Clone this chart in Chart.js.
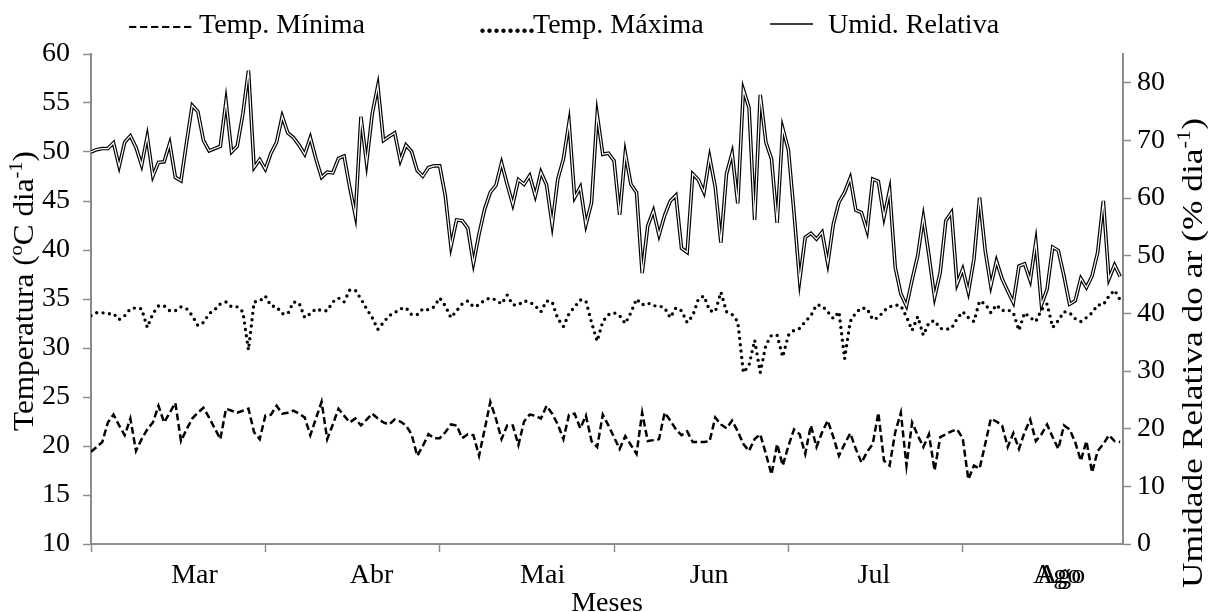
<!DOCTYPE html>
<html lang="pt">
<head>
<meta charset="utf-8">
<title>Temperatura e umidade relativa do ar</title>
<script src="https://cdn.jsdelivr.net/npm/chart.js@4.4.1/dist/chart.umd.min.js"></script>
<style>
  html, body { margin: 0; padding: 0; background: #fff; }
  #wrap { width: 1208px; height: 612px; position: relative; }
</style>
</head>
<body>
<div id="wrap"><canvas id="c" width="1208" height="612"></canvas></div>
<script>
// Daily series, 1 March to 31 August (184 days)
const tempMin = [
  19.4, 19.9, 20.4, 22.4, 23.2, 22.1, 21.1, 22.8, 19.5, 20.7,
  21.7, 22.4, 24.1, 22.4, 23.4, 24.4, 20.5, 21.7, 22.8, 23.4,
  23.9, 22.9, 21.8, 20.7, 23.8, 23.6, 23.4, 23.6, 23.8, 21.4,
  20.7, 23.1, 23.2, 24.1, 23.3, 23.4, 23.6, 23.3, 22.9, 21.1,
  22.8, 24.5, 20.7, 22.2, 23.8, 23.1, 22.4, 22.8, 22.1, 22.7,
  23.3, 22.8, 22.4, 22.2,
  22.7, 22.5, 22.1, 21.2, 19.0, 20.0, 21.2, 20.8, 20.8, 21.4,
  22.2, 22.1, 20.8, 21.2, 21.1, 19.0, 21.7, 24.5, 22.8, 20.7,
  22.1, 22.1, 20.1, 22.5, 23.2, 23.1, 22.8, 24.1, 23.3, 22.2,
  20.7, 23.2, 23.3, 21.8, 23.1, 20.5, 19.9, 23.2, 22.1, 20.9,
  19.7, 21.0, 20.1, 19.2, 23.4, 20.5, 20.6, 20.7, 23.4, 22.6,
  21.7,
  21.1, 21.5, 20.4, 20.4, 20.4, 20.5, 22.9, 22.2, 21.8, 22.6,
  21.5, 20.2, 19.5, 20.7, 21.2, 19.2, 17.1, 20.2, 18.0, 20.0,
  21.7, 21.2, 19.2, 22.1, 19.9, 21.4, 22.6, 20.9, 19.0, 20.2,
  21.3, 19.7, 18.3, 19.4, 20.2, 23.4, 18.5, 18.0, 21.4, 23.4,
  18.0, 22.4, 21.1, 19.9, 21.2, 17.5, 20.9, 21.2, 21.5, 21.7,
  20.8, 16.6,
  18.0, 17.7, 20.2, 22.8, 22.5, 22.1, 19.9, 21.3, 19.7, 21.4,
  22.7, 20.5, 21.2, 22.2, 20.9, 19.7, 22.1, 21.7, 20.4, 18.5,
  20.5, 17.3, 19.5, 20.2, 21.1, 20.5, 20.4
];

const tempMax = [
  33.3, 33.6, 33.6, 33.5, 33.5, 32.9, 33.3, 34.0, 34.1, 34.0,
  32.1, 33.5, 34.3, 34.3, 33.8, 33.8, 34.2, 34.0, 33.3, 32.3,
  32.6, 33.5, 33.9, 34.5, 34.7, 34.2, 34.2, 33.7, 29.8, 34.7,
  34.8, 35.3, 34.3, 34.2, 33.5, 33.5, 34.7, 34.6, 33.1, 33.5,
  34.0, 33.8, 33.8, 34.7, 35.1, 34.7, 35.9, 35.9, 35.0, 34.0,
  33.1, 31.9, 32.6, 33.3,
  33.6, 34.0, 34.1, 33.4, 33.4, 34.0, 33.9, 34.2, 35.1, 34.3,
  33.1, 33.8, 34.5, 34.8, 34.2, 34.4, 34.9, 35.1, 34.9, 34.5,
  35.4, 34.4, 34.4, 34.8, 34.7, 34.3, 33.7, 34.8, 34.7, 33.0,
  32.2, 33.5, 34.2, 34.9, 34.8, 32.6, 30.7, 32.7, 33.4, 33.6,
  33.3, 32.5, 33.6, 35.0, 34.4, 34.6, 34.3, 34.3, 34.1, 33.1,
  34.1,
  33.8, 32.6, 33.3, 35.0, 35.3, 33.8, 33.7, 35.7, 33.7, 33.4,
  32.7, 27.5, 28.2, 30.8, 27.5, 30.3, 31.3, 31.3, 29.1, 31.3,
  31.8, 32.0, 32.7, 33.3, 34.4, 34.3, 33.7, 33.0, 33.7, 28.9,
  32.7, 33.6, 34.1, 34.0, 32.9, 33.1, 33.8, 34.2, 34.4, 34.3,
  33.2, 31.8, 33.2, 31.3, 32.6, 32.8, 32.0, 31.9, 32.0, 33.0,
  33.7, 33.1,
  32.7, 34.8, 34.5, 33.6, 34.4, 33.8, 33.9, 33.6, 31.8, 33.6,
  33.1, 32.7, 33.9, 34.5, 32.1, 32.8, 33.7, 33.6, 33.0, 32.7,
  33.1, 33.6, 34.4, 34.4, 35.3, 35.9, 34.9
];

const umidRel = [
  68.0, 68.4, 68.6, 68.6, 69.6, 65.5, 69.7, 70.8, 68.8, 65.7,
  70.7, 63.8, 66.2, 66.3, 69.5, 63.6, 63.0, 69.7, 76.1, 75.0,
  70.0, 68.2, 68.6, 69.0, 76.8, 68.0, 69.0, 74.6, 82.1, 65.3,
  66.7, 65.0, 67.8, 69.7, 74.2, 71.3, 70.5, 69.2, 67.6, 70.5,
  66.8, 63.6, 64.5, 64.4, 66.9, 67.3, 61.9, 57.0, 74.1, 66.1,
  74.6, 79.5, 70.0, 70.7,
  71.3, 66.5, 69.2, 68.1, 64.8, 63.8, 65.3, 65.6, 65.6, 60.4,
  51.6, 56.2, 56.1, 54.8, 48.7, 53.8, 58.1, 61.0, 62.2, 66.1,
  62.4, 58.9, 63.2, 62.4, 63.9, 60.4, 64.5, 62.3, 55.4, 63.3,
  66.8, 73.1, 60.1, 61.9, 55.4, 59.2, 74.5, 67.6, 67.8, 66.5,
  57.1, 67.8, 62.4, 61.0, 47.0, 55.2, 57.8, 53.6, 57.0, 59.5,
  60.5,
  51.3, 50.6, 64.2, 63.2, 61.0, 67.1, 61.9, 52.3, 64.2, 67.8,
  59.1, 78.8, 75.7, 56.2, 77.9, 69.7, 66.8, 55.7, 72.1, 68.4,
  57.5, 45.7, 53.2, 53.9, 52.9, 54.1, 48.7, 55.5, 59.3, 61.0,
  63.5, 57.9, 57.5, 54.3, 63.3, 62.9, 56.7, 61.4, 48.0, 43.4,
  41.3, 45.8, 50.0, 56.7, 50.0, 42.8, 47.1, 56.1, 57.5, 45.1,
  47.7, 43.7,
  49.4, 60.1, 50.9, 44.8, 49.1, 46.0, 43.9, 41.9, 48.2, 48.6,
  45.7, 52.4, 41.5, 44.2, 51.5, 50.9, 46.5, 41.6, 42.2, 46.1,
  44.5, 46.5, 50.6, 59.5, 46.0, 48.4, 46.4
];

// Month axis: boundaries every 31 days, names placed under each block
const monthStartDay = [0, 31, 62, 93, 124, 155];
const monthNames    = ['Mar', 'Abr', 'Mai', 'Jun', 'Jul', 'Ago', 'Ago'];
const monthLabelDay = [18.4, 49.9, 80.3, 109.9, 139.2, 171.8, 172.5];

const seriesNames = ['Temp. Mínima', 'Temp. Máxima', 'Umid. Relativa'];

const SERIF = '"Liberation Serif", "Times New Roman", serif';
const AXIS_GRAY = '#8c8c8c';

const toXY = arr => arr.map((v, i) => ({ x: i, y: v }));

// Text with superscript pieces
function measureParts(ctx, parts, size) {
  let w = 0;
  for (const p of parts) {
    ctx.font = (p.sup ? Math.round(size * 0.64) : size) + 'px ' + SERIF;
    w += ctx.measureText(p.t).width;
  }
  return w;
}
function drawParts(ctx, parts, x, y, size) {
  for (const p of parts) {
    ctx.font = (p.sup ? Math.round(size * 0.64) : size) + 'px ' + SERIF;
    ctx.fillText(p.t, x, p.sup ? y - size * 0.39 : y);
    x += ctx.measureText(p.t).width;
  }
}
// Rotated title, stretched along its direction to the given length
function drawVerticalTitle(ctx, parts, baselineX, centerY, size, length) {
  const w = measureParts(ctx, parts, size);
  ctx.save();
  ctx.translate(baselineX, centerY);
  ctx.rotate(-Math.PI / 2);
  ctx.scale(length / w, 1);
  ctx.textAlign = 'left';
  ctx.textBaseline = 'alphabetic';
  drawParts(ctx, parts, -w / 2, 0, size);
  ctx.restore();
}

const annotations = {
  id: 'annotations',
  afterDraw(chart) {
    const { ctx, scales } = chart;
    const xs = scales.x;
    ctx.save();
    ctx.fillStyle = '#000';
    ctx.textBaseline = 'alphabetic';

    // month names under the axis
    ctx.font = '28px ' + SERIF;
    ctx.textAlign = 'center';
    monthNames.forEach((m, i) => {
      ctx.fillText(m, xs.getPixelForValue(monthLabelDay[i]), 583);
    });
    ctx.fillText('Meses', (xs.left + xs.right) / 2, 611);

    // axis titles
    drawVerticalTitle(ctx, [
      { t: 'Temperatura (' }, { t: 'o', sup: true }, { t: 'C dia' },
      { t: '-1', sup: true }, { t: ')' }
    ], 33, 291, 29, 280);
    drawVerticalTitle(ctx, [
      { t: 'Umidade Relativa do ar (% dia' }, { t: '-1', sup: true }, { t: ')' }
    ], 1202, 353, 30, 470);

    // key above the plot
    const ky = 33;
    ctx.textAlign = 'left';
    ctx.font = '28px ' + SERIF;
    for (let i = 0; i < 6; i++) ctx.fillText('-', 128 + i * 11, ky);
    ctx.fillText(seriesNames[0], 199, ky);
    ctx.font = 'bold 28px ' + SERIF;
    ctx.fillText('........', 479, ky);
    ctx.font = '28px ' + SERIF;
    ctx.fillText(seriesNames[1], 533, ky);
    ctx.strokeStyle = '#000';
    ctx.lineWidth = 1.5;
    ctx.beginPath();
    ctx.moveTo(770, ky - 9);
    ctx.lineTo(813, ky - 9);
    ctx.stroke();
    ctx.fillText(seriesNames[2], 828, ky);
    ctx.restore();
  }
};

new Chart(document.getElementById('c'), {
  type: 'line',
  data: {
    datasets: [
      {
        label: seriesNames[0],
        data: toXY(tempMin),
        yAxisID: 'y',
        borderColor: '#000',
        borderWidth: 2.5,
        borderDash: [7, 3.5],
        pointRadius: 0,
        tension: 0,
        order: 2
      },
      {
        label: seriesNames[1],
        data: toXY(tempMax),
        yAxisID: 'y',
        borderColor: '#000',
        borderWidth: 3.4,
        borderDash: [0, 6.4],
        borderCapStyle: 'round',
        pointRadius: 0,
        tension: 0,
        order: 3
      },
      {
        label: seriesNames[2],
        data: toXY(umidRel),
        yAxisID: 'y2',
        borderColor: '#000',
        borderWidth: 3.6,
        pointRadius: 0,
        tension: 0,
        order: 1
      },
      {
        // white core that gives the humidity trace its double-line look
        label: seriesNames[2] + ' (núcleo)',
        data: toXY(umidRel),
        yAxisID: 'y2',
        borderColor: '#fff',
        borderWidth: 1.2,
        pointRadius: 0,
        tension: 0,
        order: 0
      }
    ]
  },
  options: {
    responsive: false,
    devicePixelRatio: 1,
    animation: false,
    events: [],
    layout: { padding: { top: 54, left: 0, right: 0, bottom: 0 } },
    plugins: { legend: { display: false }, tooltip: { enabled: false } },
    scales: {
      x: {
        type: 'linear',
        position: 'bottom',
        min: 0,
        max: 183.5,
        afterBuildTicks: s => { s.ticks = monthStartDay.map(v => ({ value: v })); },
        afterFit: s => { s.height = 68; },
        ticks: { display: false },
        grid: { drawOnChartArea: false, drawTicks: true, tickLength: 8, tickWidth: 1.5, tickColor: AXIS_GRAY },
        border: { display: true, color: AXIS_GRAY, width: 2 }
      },
      y: {
        type: 'linear',
        position: 'left',
        min: 10,
        max: 60,
        afterFit: s => { s.width = 91; },
        ticks: { stepSize: 5, color: '#000', font: { family: SERIF, size: 28 }, padding: 13 },
        grid: { drawOnChartArea: false, drawTicks: true, tickLength: 8, tickWidth: 1.5, tickColor: AXIS_GRAY },
        border: { display: true, color: AXIS_GRAY, width: 2 }
      },
      y2: {
        type: 'linear',
        position: 'right',
        min: 0,
        max: 85,
        afterFit: s => { s.width = 85; },
        ticks: { stepSize: 5, color: '#000', font: { family: SERIF, size: 28 }, padding: 6 },
        grid: { drawOnChartArea: false, drawTicks: true, tickLength: 8, tickWidth: 1.5, tickColor: AXIS_GRAY },
        border: { display: true, color: AXIS_GRAY, width: 2 }
      }
    }
  },
  plugins: [annotations]
});
</script>
</body>
</html>
